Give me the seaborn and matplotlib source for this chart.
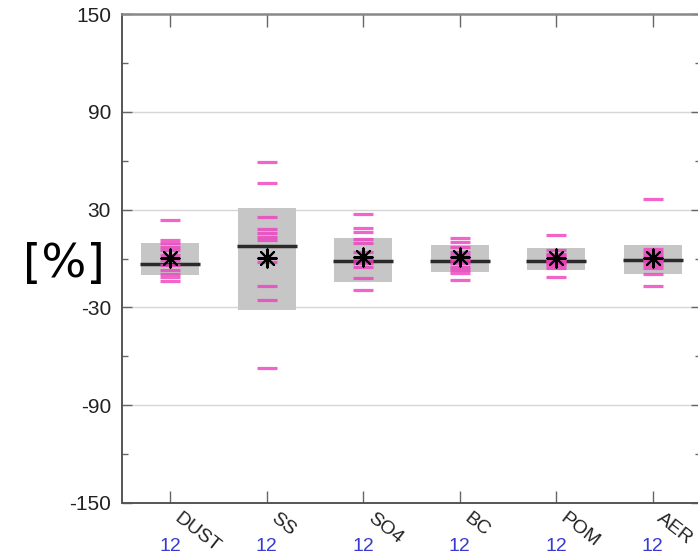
import numpy as np
import pandas as pd
import matplotlib
matplotlib.use("Agg")
import matplotlib.pyplot as plt
import matplotlib.transforms as mtransforms
import seaborn as sns

# ---------------- data ----------------
categories = ["DUST", "SS", "SO4", "BC", "POM", "AER"]
counts = [12, 12, 12, 12, 12, 12]
box_low = [-10.0, -31.6, -14.2, -8.5, -7.0, -9.5]
box_high = [9.5, 30.8, 12.4, 8.0, 6.3, 8.5]
median_vals = [-3.4, 7.7, -1.5, -1.5, -1.5, -0.9]
mean_vals = [0.5, 0.1, 0.7, 0.8, 0.5, 0.5]

dust_models = [23.6, 11.3, 9.5, 7.1, 5.2, 2.1, -0.9, -4.0, -7.0, -9.5, -11.3, -13.8]
ss_models = [59.4, 46.5, 25.3, 17.9, 15.5, 13.4, 11.3, 0.3, -2.0, -16.9, -25.5, -67.4]
so4_models = [27.3, 18.5, 16.1, 12.0, 9.3, 4.0, 1.0, -1.0, -3.0, -5.0, -12.1, -19.5]
bc_models = [12.6, 10.1, 7.0, 4.0, 2.0, 0.0, -1.0, -3.0, -5.0, -7.0, -9.0, -13.2]
pom_models = [14.4, 5.0, 3.0, 2.0, 1.0, 0.0, -1.0, -2.0, -3.0, -4.0, -6.0, -11.2]
aer_models = [36.7, 6.0, 4.0, 2.0, 1.0, 0.0, -1.0, -2.0, -4.0, -6.0, -9.5, -16.8]
model_values = [dust_models, ss_models, so4_models, bc_models, pom_models, aer_models]

y_major = [-150, -90, -30, 30, 90, 150]
y_minor = [-120, -60, 0, 60, 120]

# ---------------- figure ----------------
sns.set_style("white")
plt.rcParams["font.family"] = ["Liberation Sans", "DejaVu Sans"]

fig = plt.figure(figsize=(6.98, 5.59), dpi=100)
W, H = 698.0, 559.0
ax_left, ax_right, ax_top, ax_bottom = 122.0, 701.0, 14.0, 503.0
ax = fig.add_axes([ax_left / W, 1 - ax_bottom / H,
                   (ax_right - ax_left) / W, (ax_bottom - ax_top) / H])

xpos = np.arange(1, len(categories) + 1)

# gridlines
for g in [90, 30, -30, -90]:
    ax.axhline(g, color="#d6d6d6", lw=1.0, zorder=0)

# boxes
ax.bar(xpos, np.array(box_high) - np.array(box_low), bottom=box_low,
       width=0.6, color="#c6c6c6", edgecolor="none", zorder=1)
# medians
ax.hlines(median_vals, xpos - 0.31, xpos + 0.31, color="#2a2a2a", lw=2.5, zorder=2)

# individual models
rows = []
for xi, vals in zip(xpos, model_values):
    for v in vals:
        rows.append((xi, v))
df_models = pd.DataFrame(rows, columns=["x", "y"])
sns.scatterplot(data=df_models, x="x", y="y", ax=ax, marker="_", s=200,
                color="#ee3fbf", linewidth=2.3, alpha=0.8, zorder=3, legend=False)

# mean asterisks
df_mean = pd.DataFrame({"x": xpos, "y": mean_vals})
sns.scatterplot(data=df_mean, x="x", y="y", ax=ax, marker=(8, 2, 0), s=170,
                color="black", linewidth=1.5, zorder=4, legend=False)

# axes
ax.set_xlim(0.5, 6.5)
ax.set_ylim(-150, 150)
ax.set_xlabel("")
ax.set_ylabel("")
ax.set_yticks(y_major)
ax.set_yticks(y_minor, minor=True)
ax.set_yticklabels([str(v) for v in y_major])
ax.set_xticks(xpos)
ax.set_xticklabels([])
ax.tick_params(axis="y", which="major", direction="in", length=7, width=1.0,
               color="#666666", left=True, right=True, labelsize=15,
               labelcolor="#222222", pad=8)
ax.tick_params(axis="y", which="minor", direction="in", length=4, width=1.0,
               color="#666666", left=True, right=True)
ax.tick_params(axis="x", which="major", direction="in", length=9, width=1.0,
               color="#666666", top=True, bottom=True)
for side in ["left", "bottom"]:
    ax.spines[side].set_color("#555555")
    ax.spines[side].set_linewidth(1.4)
for side in ["top", "right"]:
    ax.spines[side].set_color("#888888")
    ax.spines[side].set_linewidth(1.8)

trans = mtransforms.blended_transform_factory(ax.transData, ax.transAxes)
for xi, cat, n in zip(xpos, categories, counts):
    ax.text(xi + 0.12, -0.014, cat, transform=trans, rotation=-38,
            rotation_mode="anchor", ha="left", va="top", fontsize=14,
            color="#222222", clip_on=False)
    ax.text(xi, -0.088, str(n), transform=trans, ha="center", va="center",
            fontsize=14, color="#3a3ad0", clip_on=False)

fig.text(64 / W, 1 - 265 / H, "[%]", ha="center", va="center", fontsize=34,
         family=["DejaVu Sans"], color="black")

fig.savefig("out.png", dpi=100)
